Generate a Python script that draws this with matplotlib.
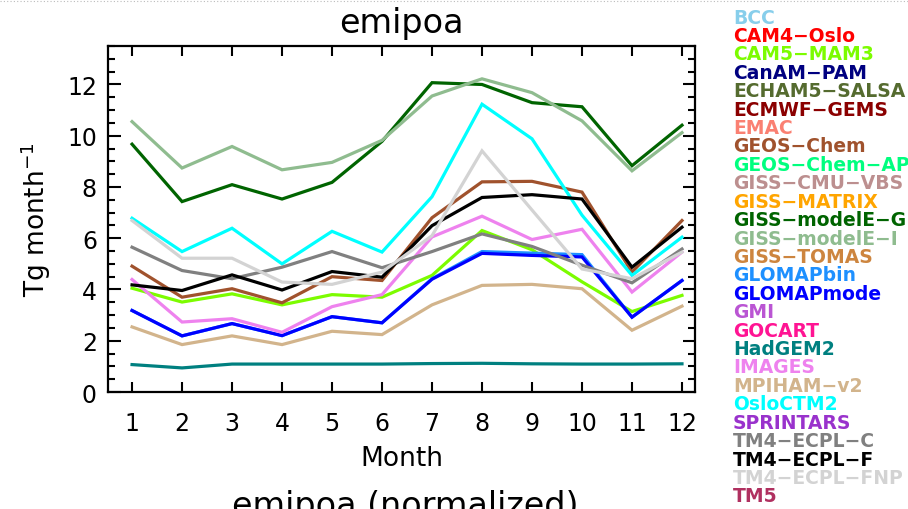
import matplotlib
matplotlib.use("Agg")
import matplotlib.pyplot as plt
from matplotlib.ticker import MultipleLocator
from matplotlib.lines import Line2D

months = list(range(1, 13))
month_labels = [str(m) for m in months]

# Model names listed in the key (all models of the intercomparison)
models = ["BCC", "CAM4-Oslo", "CAM5-MAM3", "CanAM-PAM", "ECHAM5-SALSA",
          "ECMWF-GEMS", "EMAC", "GEOS-Chem", "GEOS-Chem-APM", "GISS-CMU-VBS",
          "GISS-MATRIX", "GISS-modelE-G", "GISS-modelE-I", "GISS-TOMAS",
          "GLOMAPbin", "GLOMAPmode", "GMI", "GOCART", "HadGEM2", "IMAGES",
          "MPIHAM-v2", "OsloCTM2", "SPRINTARS", "TM4-ECPL-C", "TM4-ECPL-F",
          "TM4-ECPL-FNP", "TM5"]
model_colors = ["#87CEEB", "#FF0000", "#7CFC00", "#000080", "#556B2F",
                "#8B0000", "#FA8072", "#A0522D", "#00FF7F", "#BC8F8F",
                "#FFA500", "#006400", "#8FBC8F", "#CD853F",
                "#1E90FF", "#0000FF", "#BA55D3", "#FF1493", "#008080", "#EE82EE",
                "#D2B48C", "#00FFFF", "#9932CC", "#808080", "#000000",
                "#D3D3D3", "#B03060"]

# Monthly POA emissions (Tg month^-1) for the models that report them
cam5_mam3 = [4.05, 3.51, 3.83, 3.40, 3.80, 3.70, 4.55, 6.30, 5.55, 4.30, 3.14, 3.77]
geos_chem = [4.91, 3.70, 4.03, 3.48, 4.50, 4.35, 6.80, 8.20, 8.22, 7.80, 4.68, 6.69]
giss_modele_g = [9.67, 7.43, 8.09, 7.53, 8.18, 9.78, 12.07, 12.00, 11.29, 11.13, 8.83, 10.41]
giss_modele_i = [10.55, 8.74, 9.58, 8.67, 8.96, 9.82, 11.55, 12.22, 11.68, 10.58, 8.63, 10.12]
glomapbin = [3.18, 2.19, 2.67, 2.20, 2.94, 2.70, 4.42, 5.48, 5.42, 5.36, 2.92, 4.35]
glomapmode = [3.18, 2.19, 2.67, 2.20, 2.94, 2.70, 4.40, 5.41, 5.33, 5.27, 2.92, 4.35]
hadgem2 = [1.07, 0.94, 1.09, 1.09, 1.09, 1.09, 1.11, 1.12, 1.10, 1.09, 1.09, 1.10]
images = [4.39, 2.73, 2.86, 2.33, 3.33, 3.80, 6.05, 6.86, 5.95, 6.35, 3.90, 5.46]
mpiham_v2 = [2.54, 1.85, 2.19, 1.85, 2.37, 2.24, 3.40, 4.16, 4.20, 4.03, 2.41, 3.35]
osloctm2 = [6.78, 5.48, 6.39, 5.00, 6.27, 5.46, 7.62, 11.23, 9.88, 6.90, 4.55, 6.04]
tm4_ecpl_c = [5.65, 4.74, 4.42, 4.87, 5.48, 4.85, 5.48, 6.17, 5.68, 4.95, 4.26, 5.58]
tm4_ecpl_f = [4.18, 3.96, 4.57, 3.98, 4.70, 4.48, 6.49, 7.59, 7.70, 7.53, 4.87, 6.43]
tm4_ecpl_fnp = [6.69, 5.22, 5.22, 4.29, 4.20, 4.68, 6.10, 9.41, 7.10, 4.80, 4.42, 5.46]

series = {
    "CAM5-MAM3": cam5_mam3,
    "GEOS-Chem": geos_chem,
    "GISS-modelE-G": giss_modele_g,
    "GISS-modelE-I": giss_modele_i,
    "GLOMAPbin": glomapbin,
    "GLOMAPmode": glomapmode,
    "HadGEM2": hadgem2,
    "IMAGES": images,
    "MPIHAM-v2": mpiham_v2,
    "OsloCTM2": osloctm2,
    "TM4-ECPL-C": tm4_ecpl_c,
    "TM4-ECPL-F": tm4_ecpl_f,
    "TM4-ECPL-FNP": tm4_ecpl_fnp,
}

plt.rcParams["font.family"] = ["DejaVu Sans"]

fig = plt.figure(figsize=(9.08, 5.10), dpi=100)
ax = fig.add_axes([0.119, 0.2294, 0.6464, 0.6784])

color_of = dict(zip(models, model_colors))
for name in models:
    if name in series:
        ax.plot(months, series[name], color=color_of[name], lw=2.3,
                solid_joinstyle="miter")

ax.set_xlim(0.52, 12.26)
ax.set_ylim(0, 13.5)
ax.set_xticks(months)
ax.set_xticklabels(month_labels)
ax.yaxis.set_major_locator(MultipleLocator(2))
ax.yaxis.set_minor_locator(MultipleLocator(0.5))
ax.tick_params(axis="both", which="both", direction="in",
               top=True, right=True, width=1.5, labelsize=17)
ax.tick_params(axis="y", which="major", length=9, pad=8)
ax.tick_params(axis="y", which="minor", length=5)
ax.tick_params(axis="x", which="major", length=7, pad=14)
for sp in ax.spines.values():
    sp.set_linewidth(1.6)

ax.set_title("emipoa", fontsize=24, pad=10)
ax.set_xlabel("Month", fontsize=19, labelpad=7)
ax.set_ylabel("Tg month$^{-1}$", fontsize=19, labelpad=10)

# model key, one coloured name per line (long dashes between name parts)
y0 = 1 - 18 / 510
dy = 18.42 / 510
for i, (name, col) in enumerate(zip(models, model_colors)):
    fig.text(0.807, y0 - i * dy, name.replace("-", "\u2212"), color=col,
             fontsize=13.5, fontweight="bold", va="center", ha="left")

# heading of the next panel, cut by the figure edge
fig.text(0.446, -0.012, "emipoa (normalized)", fontsize=24,
         ha="center", va="baseline")

# dotted frame edge at the very top
fig.add_artist(Line2D([0, 1], [0.996, 0.996], transform=fig.transFigure,
                      color="#BBBBBB", lw=0.8, ls=(0, (1, 2))))

fig.savefig("out.png", dpi=100)
